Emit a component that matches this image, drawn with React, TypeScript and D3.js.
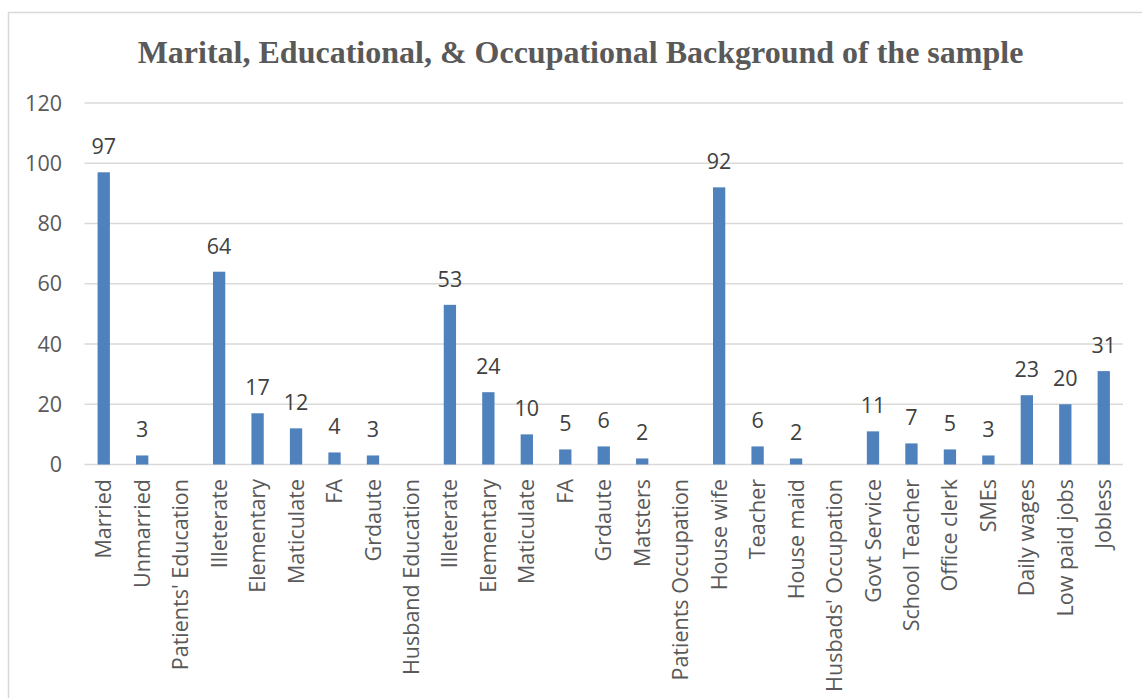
import React from "react";
import * as d3 from "d3";

const categories: string[] = [
  "Married", "Unmarried", "Patients' Education", "Illeterate", "Elementary", "Maticulate", "FA", "Grdaute",
  "Husband Education", "Illeterate", "Elementary", "Maticulate", "FA", "Grdaute", "Matsters",
  "Patients Occupation", "House wife", "Teacher", "House maid", "Husbads' Occupation",
  "Govt Service", "School Teacher", "Office clerk", "SMEs", "Daily wages", "Low paid jobs", "Jobless",
];
const values: (number | null)[] = [
  97, 3, null, 64, 17, 12, 4, 3,
  null, 53, 24, 10, 5, 6, 2,
  null, 92, 6, 2, null,
  11, 7, 5, 3, 23, 20, 31,
];
const yTicks: number[] = [0, 20, 40, 60, 80, 100, 120];
const title = "Marital, Educational, & Occupational Background of the sample";

const W = 1142, H = 698;
const left = 84.5, right = 1123, top = 103, bottom = 464.5;
const labelFont = "'Open Sans', 'Noto Sans', sans-serif";
const fs = 21.5;

export default function App() {
  const x = d3.scaleBand<number>()
    .domain(categories.map((_, i) => i))
    .range([left, right])
    .paddingInner(0.68)
    .paddingOuter(0.34);
  const y = d3.scaleLinear().domain([0, 120]).range([bottom, top]);

  return (
    <svg width={W} height={H} style={{ position: "absolute", left: 0, top: 0, background: "#fff" }}>
      <rect x={8.5} y={12.5} width={W + 20} height={H + 20} fill="#fff" stroke="#D9D9D9" strokeWidth={1.5} />
      <text x={580.5} y={63} textAnchor="middle" fontFamily="'Liberation Serif', 'Times New Roman', serif"
        fontWeight="bold" fontSize={32} fill="#595959">{title}</text>
      {yTicks.map((t) => (
        <g key={t}>
          <line x1={left} x2={right} y1={y(t)} y2={y(t)} stroke="#D9D9D9" strokeWidth={1.5} />
          <text x={62} y={y(t)} dy="0.35em" textAnchor="end" fontFamily={labelFont} fontSize={fs} fill="#595959">{t}</text>
        </g>
      ))}
      {values.map((v, i) => {
        if (v == null) return null;
        const bx = x(i)!;
        return (
          <g key={i}>
            <rect x={bx} y={y(v)} width={x.bandwidth()} height={y(0) - y(v)} fill="#4F81BD" />
            <text x={bx + x.bandwidth() / 2} y={y(v) - 18} textAnchor="middle" fontFamily={labelFont}
              fontSize={fs} fill="#404040">{v}</text>
          </g>
        );
      })}
      {categories.map((c, i) => {
        const cx = x(i)! + x.bandwidth() / 2;
        return (
          <text key={i} transform={`translate(${cx},${479}) rotate(-90)`} dy="0.35em" textAnchor="end"
            fontFamily={labelFont} fontSize={fs} fill="#595959">{c}</text>
        );
      })}
    </svg>
  );
}
